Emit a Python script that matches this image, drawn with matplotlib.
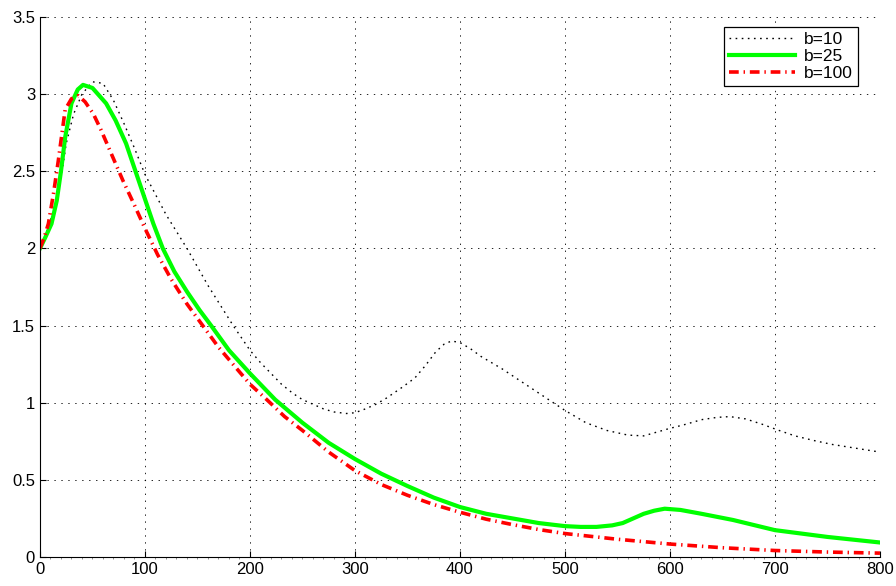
import numpy as np
import matplotlib
matplotlib.use("Agg")
import matplotlib.pyplot as plt
from matplotlib.ticker import MultipleLocator

plt.rcParams['font.family'] = ['Liberation Sans', 'DejaVu Sans']
plt.rcParams['lines.scale_dashes'] = False

# b=10 (black dotted)
x_b10 = [0, 5, 10, 15, 20, 25, 32, 40, 50, 60, 70, 80, 90, 100, 110, 120, 130, 140,
         150, 160, 172, 184, 192, 200, 210, 220, 230, 241, 250, 260, 270, 280, 292,
         300, 310, 320, 330, 345, 357, 367, 377, 385, 392, 400, 410, 420, 440, 460,
         480, 500, 520, 540, 560, 575, 598, 615, 630, 645, 657, 672, 688, 704, 719,
         737, 754, 777, 800]
y_b10 = [2.0, 2.08, 2.18, 2.30, 2.45, 2.68, 2.87, 3.0, 3.08, 3.07, 2.96, 2.81, 2.65,
         2.48, 2.35, 2.22, 2.11, 2.0, 1.88, 1.76, 1.63, 1.5, 1.42, 1.34, 1.26, 1.19,
         1.12, 1.06, 1.02, 0.99, 0.96, 0.94, 0.93, 0.935, 0.96, 0.99, 1.03, 1.10,
         1.16, 1.24, 1.33, 1.38, 1.40, 1.39, 1.35, 1.30, 1.22, 1.13, 1.04, 0.95,
         0.87, 0.82, 0.79, 0.785, 0.83, 0.86, 0.89, 0.905, 0.91, 0.895, 0.86, 0.82,
         0.785, 0.755, 0.73, 0.705, 0.68]

# b=25 (green solid)
x_b25 = [0, 5, 11, 16, 20, 24, 30, 36, 41, 50, 63, 72, 82, 91, 100, 108, 117, 128,
         140, 152, 163, 180, 200, 224, 250, 275, 300, 325, 350, 375, 400, 425, 450,
         475, 500, 515, 530, 545, 555, 565, 575, 585, 595, 610, 630, 660, 700, 750,
         800]
y_b25 = [2.0, 2.07, 2.16, 2.31, 2.5, 2.72, 2.94, 3.03, 3.06, 3.04, 2.94, 2.83, 2.68,
         2.50, 2.32, 2.16, 2.0, 1.85, 1.72, 1.60, 1.5, 1.34, 1.19, 1.02, 0.87, 0.74,
         0.635, 0.54, 0.46, 0.385, 0.324, 0.28, 0.25, 0.22, 0.20, 0.195, 0.195,
         0.205, 0.22, 0.25, 0.28, 0.30, 0.313, 0.305, 0.28, 0.24, 0.174, 0.13, 0.094]

# b=100 (red dash-dot)
x_b100 = [0, 4, 8, 13, 17.5, 24, 30, 36.5, 43, 51, 58, 65, 72, 79, 90, 100, 112, 125,
          140, 155, 170, 185, 200, 216, 233, 250, 275, 300, 325, 350, 375, 400, 425,
          450, 475, 500, 550, 600, 650, 700, 750, 800]
y_b100 = [2.0, 2.07, 2.16, 2.36, 2.57, 2.9, 2.97, 2.99, 2.95, 2.87, 2.77, 2.66, 2.55,
          2.44, 2.28, 2.13, 1.96, 1.8, 1.64, 1.5, 1.36, 1.24, 1.12, 1.02, 0.91, 0.82,
          0.68, 0.56, 0.47, 0.40, 0.34, 0.29, 0.245, 0.21, 0.178, 0.152, 0.115,
          0.084, 0.06, 0.042, 0.032, 0.025]

fig = plt.figure(figsize=(8.96, 5.86), dpi=100)
ax = fig.add_axes([0.0446, 0.0495, 0.9375, 0.9215])

ax.plot(x_b10, y_b10, color='black', lw=1.0, dashes=[1.2, 3.2], label='b=10')
ax.plot(x_b25, y_b25, color='#00ff00', lw=3.0, label='b=25')
ax.plot(x_b100, y_b100, color='red', lw=2.6, dashes=[7, 3.5, 1, 3.5], label='b=100')

ax.set_xlim(0, 800)
ax.set_ylim(0, 3.5)
ax.xaxis.set_major_locator(MultipleLocator(100))
ax.yaxis.set_major_locator(MultipleLocator(0.5))
ax.yaxis.set_major_formatter(plt.FuncFormatter(lambda v, p: ('%g' % v)))
ax.xaxis.set_minor_locator(MultipleLocator(10))

ax.spines['top'].set_visible(False)
ax.spines['right'].set_visible(False)
ax.tick_params(which='major', direction='in', length=4, labelsize=12, width=0.8)
ax.tick_params(which='minor', axis='x', direction='out', length=1.5, color='gray', width=0.6)
ax.tick_params(axis='y', which='minor', left=False)
ax.grid(True, which='major', linestyle=(0, (1, 4)), color='black', lw=0.6)

leg = ax.legend(loc='upper right', bbox_to_anchor=(0.974, 0.982), borderaxespad=0,
                fontsize=12.5, fancybox=False, edgecolor='black', framealpha=1,
                handlelength=3.8, borderpad=0.3, labelspacing=0.1, handletextpad=0.5)
leg.get_frame().set_linewidth(0.9)

fig.savefig('out.png', dpi=100)
